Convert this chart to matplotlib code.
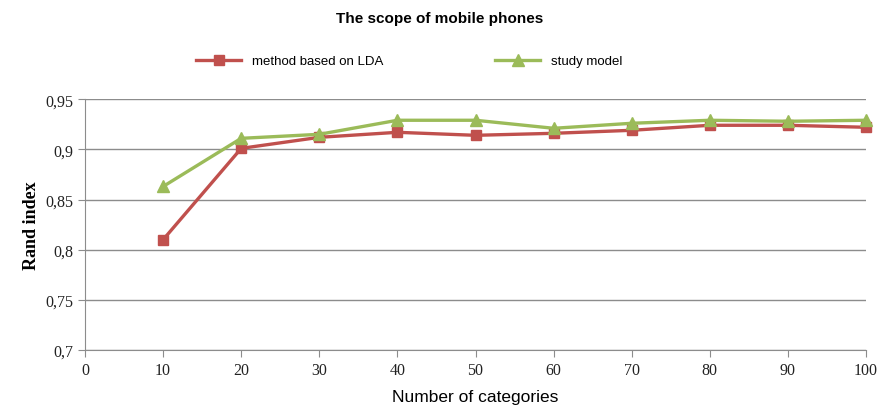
import matplotlib.pyplot as plt
from matplotlib.ticker import FuncFormatter

# Data
categories = [10, 20, 30, 40, 50, 60, 70, 80, 90, 100]
lda_values = [0.810, 0.901, 0.912, 0.917, 0.914, 0.916, 0.919, 0.924, 0.924, 0.922]
study_values = [0.863, 0.911, 0.915, 0.929, 0.929, 0.921, 0.926, 0.929, 0.928, 0.929]
x_ticks = [0, 10, 20, 30, 40, 50, 60, 70, 80, 90, 100]
y_ticks = [0.7, 0.75, 0.8, 0.85, 0.9, 0.95]

red = '#C0504D'
green = '#9BBB59'
axis_gray = '#8C8C8C'

fig = plt.figure(figsize=(8.8, 4.14), dpi=100)
ax = fig.add_axes([0.0966, 0.152, 0.8875, 0.606])

ax.plot(categories, lda_values, color=red, linewidth=2.4, marker='s',
        markersize=7, label='method based on LDA', zorder=3, clip_on=False)
ax.plot(categories, study_values, color=green, linewidth=2.4, marker='^',
        markersize=8, label='study model', zorder=3, clip_on=False)

ax.set_xlim(0, 100)
ax.set_ylim(0.7, 0.95)
ax.set_xticks(x_ticks)
ax.set_yticks(y_ticks)
ax.yaxis.set_major_formatter(FuncFormatter(lambda v, p: ('%g' % round(v, 2)).replace('.', ',')))

ax.grid(axis='y', color=axis_gray, linewidth=1)
ax.set_axisbelow(True)
for s in ['top', 'right']:
    ax.spines[s].set_visible(False)
for s in ['left', 'bottom']:
    ax.spines[s].set_color(axis_gray)
ax.tick_params(colors=axis_gray, length=5, labelcolor='#222222')
for lbl in ax.get_xticklabels() + ax.get_yticklabels():
    lbl.set_fontfamily('Liberation Serif')
    lbl.set_fontsize(11.5)

ax.set_xlabel('Number of categories', fontsize=12.5, family='Liberation Sans', labelpad=8)
ax.set_ylabel('Rand index', fontsize=13, family='Liberation Serif', fontweight='bold')

fig.text(0.5, 0.955, 'The scope of mobile phones', ha='center', va='center',
         fontsize=11, fontweight='bold', family='Liberation Sans')
fig.legend(loc='center', bbox_to_anchor=(0.465, 0.85), ncol=2, frameon=False,
           prop={'family': 'Liberation Sans', 'size': 9.5}, columnspacing=8.5,
           handlelength=3.4)

fig.savefig('out.png', dpi=100)
